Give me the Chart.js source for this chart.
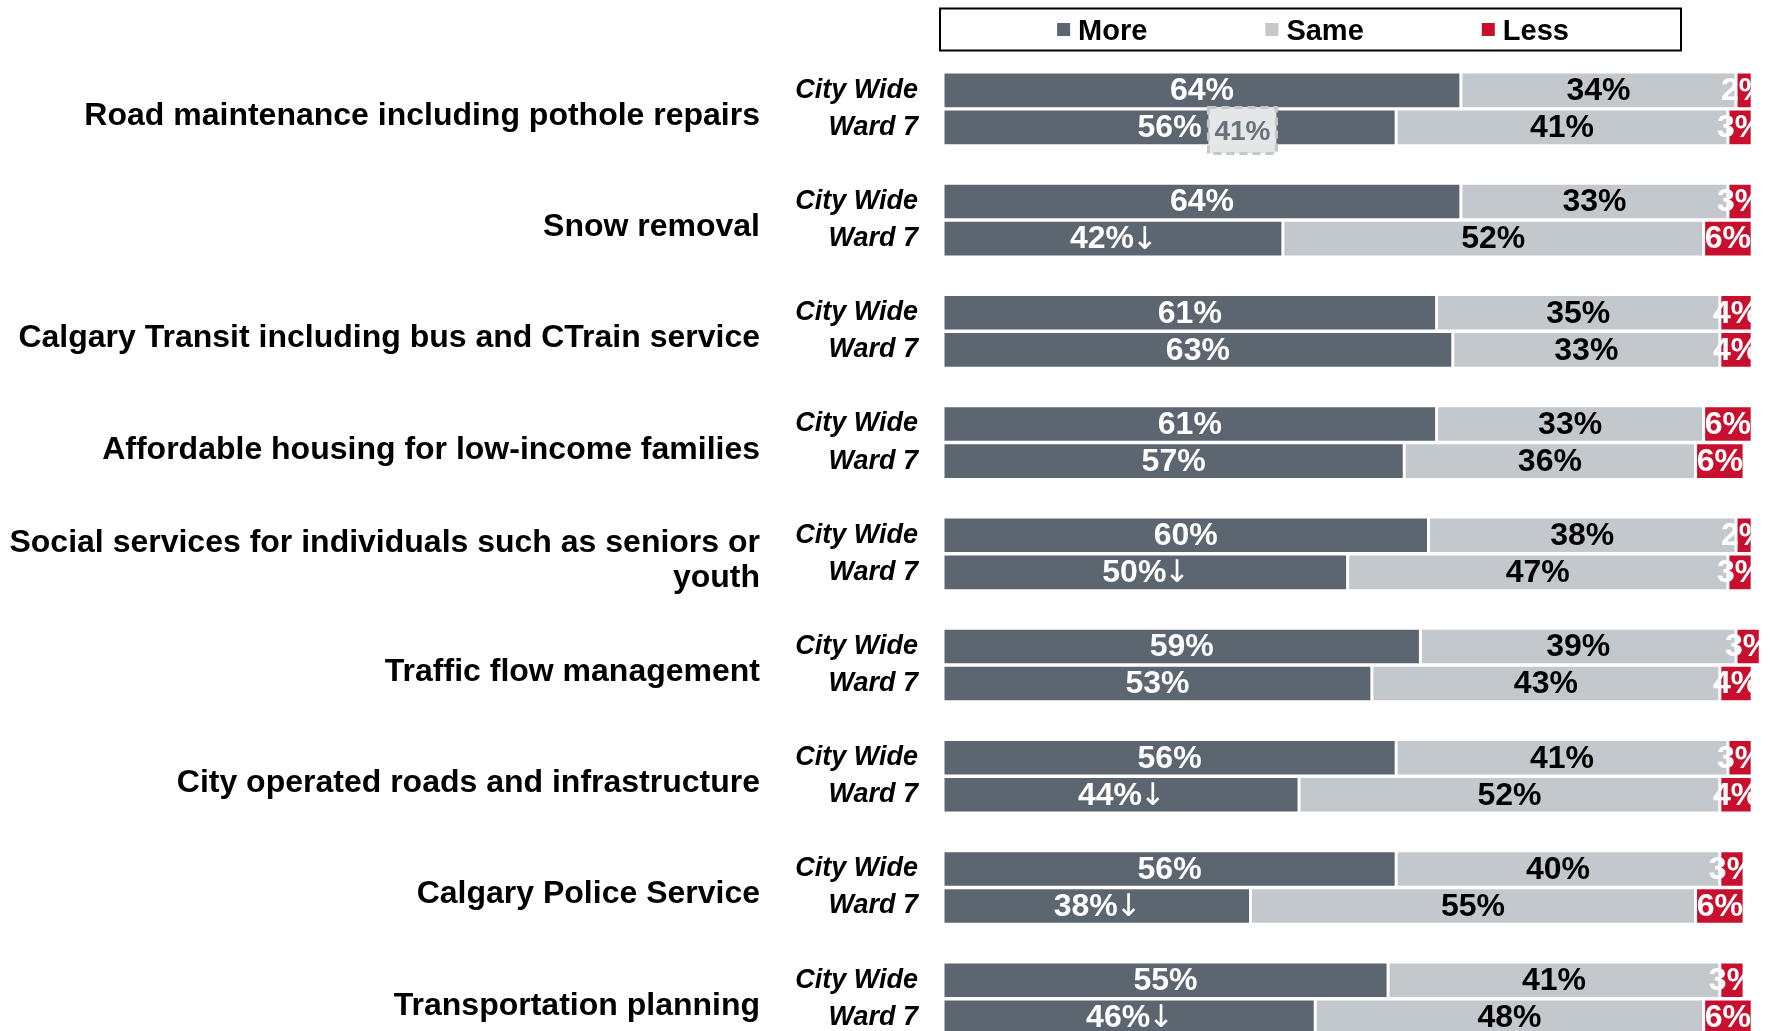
<!DOCTYPE html>
<html><head><meta charset="utf-8">
<script src="https://cdn.jsdelivr.net/npm/chart.js@4.4.1/dist/chart.umd.min.js"></script>
<style>
html,body{margin:0;padding:0;background:#fff;overflow:hidden;}
#wrap{position:relative;width:1770px;height:1031px;overflow:hidden;}
canvas{display:block;}
</style></head><body>
<div id="wrap"><canvas id="c" width="1770" height="1077"></canvas></div>
<script>
const categories = [
  'Road maintenance including pothole repairs',
  'Snow removal',
  'Calgary Transit including bus and CTrain service',
  'Affordable housing for low-income families',
  ['Social services for individuals such as seniors or', 'youth'],
  'Traffic flow management',
  'City operated roads and infrastructure',
  'Calgary Police Service',
  'Transportation planning'
];
const seriesNames = ['More', 'Same', 'Less'];
const rowLabels = ['City Wide', 'Ward 7'];
const cityMore = [64, 64, 61, 61, 60, 59, 56, 56, 55];
const citySame = [34, 33, 35, 33, 38, 39, 41, 40, 41];
const cityLess = [2, 3, 4, 6, 2, 3, 3, 3, 3];
const wardMore = [56, 42, 63, 57, 50, 53, 44, 38, 46];
const wardSame = [41, 52, 33, 36, 47, 43, 52, 55, 48];
const wardLess = [3, 6, 4, 6, 3, 4, 4, 6, 6];
const wardDown = [false, true, false, false, true, false, true, true, true];
const colors = ['#5b6670', '#c2c8cb', '#c8102e'];
const labelColors = ['#ffffff', '#000000', '#ffffff'];
const strayLabel = { text: '41%', group: 0, row: 1, value: 37 };

const FONT = '"Liberation Sans", Arial, Helvetica, sans-serif';

// build slot table: City Wide, Ward 7, gap, ...
const slotLabels = [], slotData = [[], [], []], slotDown = [], slotIndex = [];
categories.forEach((c, i) => {
  slotIndex.push(slotLabels.length);
  slotLabels.push(rowLabels[0]);
  slotData[0].push(cityMore[i]); slotData[1].push(citySame[i]); slotData[2].push(cityLess[i]);
  slotDown.push(false);
  slotLabels.push(rowLabels[1]);
  slotData[0].push(wardMore[i]); slotData[1].push(wardSame[i]); slotData[2].push(wardLess[i]);
  slotDown.push(wardDown[i]);
  if (i < categories.length - 1) {
    slotLabels.push('');
    slotData.forEach(d => d.push(null));
    slotDown.push(false);
  }
});

const valueLabels = {
  id: 'valueLabels',
  afterDatasetsDraw(chart) {
    const ctx = chart.ctx;
    const numFont = 'bold 32px ' + FONT;
    const arrowFont = '31px "DejaVu Sans", sans-serif';
    chart.data.datasets.forEach((ds, k) => {
      const meta = chart.getDatasetMeta(k);
      meta.data.forEach((el, j) => {
        const v = ds.data[j];
        if (v == null) return;
        const p = el.getProps(['x', 'y', 'base'], true);
        const txt = v + '%';
        const arrow = (k === 0 && slotDown[j]) ? '\u2193' : '';
        ctx.save();
        ctx.beginPath();
        ctx.rect(0, p.y - 30, p.x, 60);
        ctx.clip();
        ctx.fillStyle = labelColors[k];
        ctx.textBaseline = 'middle';
        ctx.textAlign = 'left';
        ctx.font = numFont;
        const w1 = ctx.measureText(txt).width;
        ctx.font = arrowFont;
        const w2 = arrow ? ctx.measureText(arrow).width - 4 : 0;
        const x0 = (p.x + p.base) / 2 - (w1 + w2) / 2;
        ctx.font = numFont;
        ctx.fillText(txt, x0, p.y + 1);
        if (arrow) {
          ctx.font = arrowFont;
          ctx.fillText(arrow, x0 + w1 - 2, p.y + 2);
        }
        ctx.restore();
      });
    });
    // stray dashed label box
    const xs = chart.scales.x, ys = chart.scales.y;
    const cx = xs.getPixelForValue(strayLabel.value);
    const cy = ys.getPixelForValue(slotIndex[strayLabel.group] + strayLabel.row) + 3;
    ctx.save();
    ctx.fillStyle = '#e4e6e8';
    ctx.fillRect(cx - 34, cy - 23, 68, 46);
    ctx.setLineDash([8, 5]);
    ctx.lineWidth = 3;
    ctx.strokeStyle = '#c2c8cb';
    ctx.strokeRect(cx - 34, cy - 23, 68, 46);
    ctx.font = 'bold 28px ' + FONT;
    ctx.fillStyle = '#67727a';
    ctx.textAlign = 'center';
    ctx.textBaseline = 'middle';
    ctx.fillText(strayLabel.text, cx, cy + 2);
    ctx.restore();
  }
};

const groupLabels = {
  id: 'groupLabels',
  afterDraw(chart) {
    const ctx = chart.ctx, ys = chart.scales.y;
    ctx.save();
    ctx.font = 'bold 32px ' + FONT;
    ctx.fillStyle = '#000';
    ctx.textAlign = 'right';
    ctx.textBaseline = 'alphabetic';
    categories.forEach((c, i) => {
      const lines = Array.isArray(c) ? c : [c];
      const mid = (ys.getPixelForValue(slotIndex[i]) + ys.getPixelForValue(slotIndex[i] + 1)) / 2;
      const first = mid + 16 - (lines.length - 1) * 35 / 2;
      lines.forEach((l, n) => ctx.fillText(l, 760, first + n * 35));
    });
    ctx.restore();
  }
};

const boxLegend = {
  id: 'boxLegend',
  afterDraw(chart) {
    const ctx = chart.ctx;
    ctx.save();
    ctx.lineWidth = 2;
    ctx.strokeStyle = '#000';
    ctx.strokeRect(940, 8.5, 741, 42);
    ctx.font = 'bold 29px ' + FONT;
    ctx.textBaseline = 'alphabetic';
    ctx.textAlign = 'left';
    const gap = 118, sq = 13, sp = 8;
    const widths = seriesNames.map(n => sq + sp + ctx.measureText(n).width);
    const total = widths.reduce((a, b) => a + b, 0) + gap * (seriesNames.length - 1);
    let x = 1313 - total / 2;
    seriesNames.forEach((n, k) => {
      ctx.fillStyle = colors[k];
      ctx.fillRect(x, 23, sq, sq);
      ctx.fillStyle = '#000';
      ctx.fillText(n, x + sq + sp, 39.5);
      x += widths[k] + gap;
    });
    ctx.restore();
  }
};

new Chart(document.getElementById('c'), {
  type: 'bar',
  data: {
    labels: slotLabels,
    datasets: seriesNames.map((n, k) => ({
      label: n,
      data: slotData[k],
      backgroundColor: colors[k],
      borderColor: '#ffffff',
      borderWidth: { top: 1, bottom: 1, left: 1.5, right: 1.5 },
      borderSkipped: false,
      categoryPercentage: 0.96,
      barPercentage: 1
    }))
  },
  options: {
    indexAxis: 'y',
    responsive: false,
    animation: false,
    layout: { padding: { top: 71.8, bottom: 0, left: 0, right: 0 } },
    plugins: { legend: { display: false }, tooltip: { enabled: false } },
    scales: {
      x: { stacked: true, min: 0, max: 102.2, display: false },
      y: {
        stacked: true,
        grid: { display: false, drawTicks: false, tickLength: 0 },
        border: { display: false },
        ticks: {
          autoSkip: false,
          padding: 25,
          color: '#000',
          font: { family: FONT, size: 27, weight: 'bold', style: 'italic' }
        },
        afterFit(s) { s.width = 943; }
      }
    }
  },
  plugins: [valueLabels, groupLabels, boxLegend]
});
</script>
</body></html>
